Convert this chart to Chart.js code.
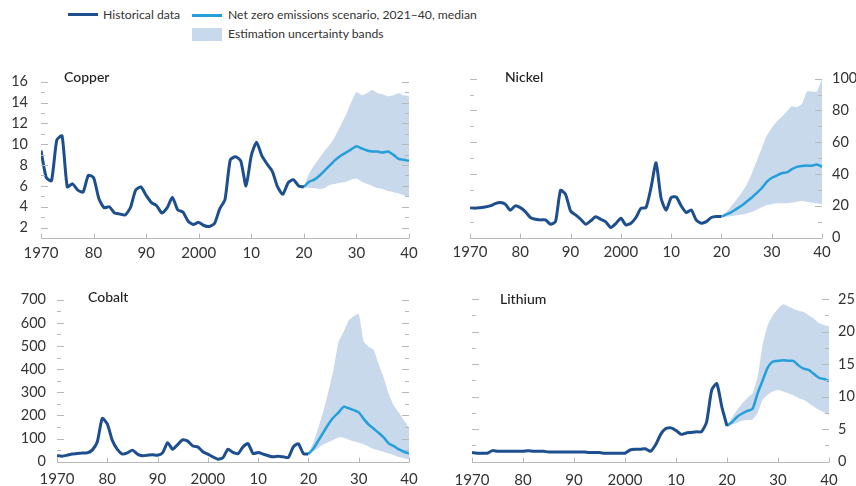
<!DOCTYPE html>
<html>
<head>
<meta charset="utf-8">
<script src="https://cdn.jsdelivr.net/npm/chart.js@4.4.0/dist/chart.umd.min.js"></script>
<style>
  body { margin: 0; width: 856px; height: 486px; background: #fff; position: relative; overflow: hidden; font-family: Lato, sans-serif; color: #333; }
  .box { position: absolute; }
  .lg { position: absolute; font-size: 12.2px; line-height: 16px; color: #333; white-space: nowrap; }
  .sw { position: absolute; }
  .ttl { position: absolute; font-size: 14px; line-height: 16px; color: #222; font-weight: 500; }
</style>
</head>
<body>

<div class="sw" style="left:68px;top:13px;width:30px;height:3px;background:#1d4f8f"></div>
<div class="lg" style="left:103px;top:7px">Historical data</div>
<div class="sw" style="left:192px;top:14px;width:30px;height:3px;background:#249fd9"></div>
<div class="lg" style="left:228px;top:7px">Net zero emissions scenario, 2021–40, median</div>
<div class="sw" style="left:192px;top:28px;width:30px;height:13px;background:#c8d9eb"></div>
<div class="lg" style="left:228px;top:26px">Estimation uncertainty bands</div>

<div class="box" style="left:0;top:60px;width:428px;height:205px"><canvas id="copper"></canvas></div>
<div class="box" style="left:428px;top:60px;width:428px;height:205px"><canvas id="nickel"></canvas></div>
<div class="box" style="left:0;top:280px;width:428px;height:206px"><canvas id="cobalt"></canvas></div>
<div class="box" style="left:428px;top:280px;width:428px;height:206px"><canvas id="lithium"></canvas></div>

<div class="ttl" style="left:64px;top:69px">Copper</div>
<div class="ttl" style="left:505px;top:69px">Nickel</div>
<div class="ttl" style="left:88px;top:289px">Cobalt</div>
<div class="ttl" style="left:500px;top:291px">Lithium</div>

<script>
// years
const histYears = Array.from({ length: 51 }, (_, i) => 1970 + i)
const projYears = Array.from({ length: 21 }, (_, i) => 2020 + i)
const xTicks = [1970, 1980, 1990, 2000, 2010, 2020, 2030, 2040]
const xLabels = ['1970', '80', '90', '2000', '10', '20', '30', '40']

// copper
const copperHist = [9.4, 6.8, 6.5, 10.4, 10.8, 5.9, 6.2, 5.6, 5.4, 7.0,
  6.8, 4.8, 3.9, 4.0, 3.4, 3.3, 3.2, 3.9, 5.6, 5.9,
  5.1, 4.4, 4.1, 3.4, 3.9, 4.9, 3.7, 3.5, 2.6, 2.3,
  2.5, 2.2, 2.1, 2.4, 3.8, 4.7, 8.5, 8.8, 8.4, 6.0,
  8.9, 10.2, 8.9, 8.1, 7.4, 5.9, 5.2, 6.3, 6.6, 6.0,
  5.9]
const copperMed = [5.9, 6.4, 6.6, 7.0, 7.5, 8.0, 8.5, 8.9, 9.2, 9.5, 9.8, 9.6, 9.4, 9.3, 9.3, 9.2, 9.3, 9.0, 8.6, 8.5, 8.4]
const copperUp = [5.9, 7.2, 8.0, 8.7, 9.4, 10.0, 10.8, 11.8, 12.8, 14.0, 15.0, 14.7, 14.9, 15.2, 14.9, 14.8, 14.6, 14.7, 14.9, 14.7, 14.6]
const copperLo = [5.9, 5.8, 5.8, 5.7, 5.8, 6.1, 6.2, 6.3, 6.4, 6.6, 6.7, 6.4, 6.2, 6.0, 5.8, 5.7, 5.5, 5.4, 5.3, 5.1, 4.9]
const copperTicks = [2, 4, 6, 8, 10, 12, 14, 16]

// nickel
const nickelHist = [18.8, 18.4, 18.8, 19.2, 19.9, 21.3, 22, 21, 17.2, 19.9,
  18.8, 16.3, 12.6, 11.5, 11.1, 11.1, 8.4, 10, 29.7, 27.2,
  16.7, 14.2, 11.5, 8.4, 10.5, 13, 11.5, 9.8, 6.3, 8.8,
  12.1, 7.9, 9, 12.6, 18.4, 18.8, 31.4, 47, 24.7, 17.2,
  25.1, 25.5, 19.9, 15.7, 17.4, 10.9, 9, 10, 12.6, 13.2,
  13.2]
const nickelMed = [13.2, 14.5, 16, 18, 20, 22.5, 25, 28, 31, 35, 37.5, 39, 40.5, 41, 43, 44.5, 45, 45.3, 45.2, 46, 44.5]
const nickelUp = [13.2, 16, 20, 24, 28, 33, 40, 48, 56, 64, 69, 73, 76, 79.5, 82.6, 82, 84, 92, 92, 92, 100]
const nickelLo = [13.2, 13, 13.5, 14, 14.5, 15, 16, 17.5, 19, 20.5, 21, 21.5, 21.5, 21.5, 22, 22.5, 23, 22.5, 22, 21.5, 21]
const nickelTicks = [0, 20, 40, 60, 80, 100]

// cobalt
const cobaltHist = [26, 24, 28, 33, 35, 38, 38, 50, 85, 187,
  163, 92, 53, 33, 38, 50, 33, 26, 28, 30,
  28, 38, 82, 54, 74, 95, 89, 68, 64, 43,
  33, 21, 11, 17, 54, 40, 35, 64, 78, 35,
  40, 33, 26, 21, 24, 21, 18, 64, 78, 35,
  33]
const cobaltMed = [33, 57, 92, 128, 163, 192, 213, 237, 231, 223, 213, 185, 160, 142, 124, 104, 78, 67, 53, 43, 35]
const cobaltUp = [33, 85, 149, 220, 305, 398, 518, 561, 610, 629, 639, 518, 497, 483, 419, 362, 291, 241, 213, 178, 149]
const cobaltLo = [33, 45, 60, 75, 85, 95, 105, 103, 95, 88, 82, 75, 65, 55, 48, 42, 35, 28, 20, 15, 10]
const cobaltTicks = [0, 100, 200, 300, 400, 500, 600, 700]

// lithium
const lithiumHist = [1.4, 1.3, 1.3, 1.3, 1.7, 1.6, 1.6, 1.6, 1.6, 1.6,
  1.6, 1.7, 1.6, 1.6, 1.6, 1.5, 1.5, 1.5, 1.5, 1.5,
  1.5, 1.5, 1.5, 1.4, 1.4, 1.4, 1.3, 1.3, 1.3, 1.3,
  1.3, 1.8, 1.9, 1.9, 2.0, 1.6, 2.6, 4.2, 5.1, 5.2,
  4.8, 4.2, 4.4, 4.5, 4.6, 4.6, 6.1, 11, 12, 8.4,
  5.5]
const lithiumMed = [5.5, 6.1, 6.9, 7.4, 7.8, 8.1, 10.5, 12.5, 14.5, 15.4, 15.5, 15.6, 15.5, 15.5, 14.8, 14.3, 14.1, 13.5, 12.9, 12.7, 12.4]
const lithiumUp = [5.5, 6.8, 8, 9, 9.8, 10.5, 13, 18, 21, 22.5, 23.5, 24.2, 23.9, 23.5, 23.2, 23, 22.5, 22, 21.3, 21, 20.8]
const lithiumLo = [5.5, 5.7, 6.0, 6.3, 6.4, 6.5, 7.5, 9.5, 10.3, 10.8, 11.0, 10.8, 10.5, 10.2, 9.8, 9.5, 9.0, 8.5, 8.0, 7.6, 7.2]
const lithiumTicks = [0, 5, 10, 15, 20, 25]

Chart.defaults.font.family = 'Lato, sans-serif'
Chart.defaults.font.size = 15
Chart.defaults.color = '#333'
Chart.defaults.animation = false

const pts = (xs, ys) => ys.map((v, i) => ({ x: xs[i], y: v }))

// short inner dashes on both sides + baseline with decade ticks
const axisMarks = {
  id: 'axisMarks',
  afterDatasetsDraw(chart, args, opts) {
    const { ctx, chartArea: a, scales } = chart
    const y = scales.y, x = scales.x
    ctx.save()
    ctx.strokeStyle = '#b8b8b8'
    ctx.lineWidth = 1
    for (let v = y.min; v <= y.max + 1e-9; v += opts.step) {
      const py = Math.round(y.getPixelForValue(v)) + 0.5
      const major = opts.major.includes(Math.round(v * 100) / 100)
      const len = major ? 7 : 4
      ctx.beginPath()
      ctx.moveTo(a.left, py); ctx.lineTo(a.left + len, py)
      ctx.moveTo(a.right - len, py); ctx.lineTo(a.right, py)
      ctx.stroke()
    }
    const by = Math.round(a.bottom) + 0.5
    ctx.beginPath()
    ctx.moveTo(a.left, by); ctx.lineTo(a.right, by)
    xTicks.forEach(t => {
      const px = Math.round(x.getPixelForValue(t)) + 0.5
      ctx.moveTo(px, by); ctx.lineTo(px, by - 5)
    })
    ctx.stroke()
    ctx.restore()
  }
}

function makePanel(id, o) {
  new Chart(document.getElementById(id), {
    type: 'line',
    data: {
      datasets: [
        { data: pts(histYears, o.hist), borderColor: '#1d4f8f', borderWidth: 3, pointRadius: 0, tension: 0.2, borderJoinStyle: 'round' },
        { data: pts(projYears, o.med), borderColor: '#249fd9', borderWidth: 2.5, pointRadius: 0, tension: 0.2, borderJoinStyle: 'round' },
        { data: pts(projYears, o.lo), borderWidth: 0, pointRadius: 0, tension: 0.15 },
        { data: pts(projYears, o.up), borderWidth: 0, pointRadius: 0, tension: 0.15, fill: '-1', backgroundColor: '#c8d9eb' }
      ]
    },
    options: {
      responsive: true,
      maintainAspectRatio: false,
      layout: { padding: o.pad },
      plugins: { legend: { display: false }, tooltip: { enabled: false }, axisMarks: { step: o.step, major: o.ticks } },
      scales: {
        x: {
          type: 'linear', min: 1970, max: 2040,
          grid: { display: false, drawTicks: false }, border: { display: false },
          afterBuildTicks: s => { s.ticks = xTicks.map(v => ({ value: v })) },
          ticks: { padding: o.xpad, maxRotation: 0, autoSkip: false, callback: v => xLabels[xTicks.indexOf(v)] },
          afterFit: s => { s.height = o.xh }
        },
        y: {
          position: o.side, min: o.min, max: o.max,
          grid: { display: false, drawTicks: false }, border: { display: false },
          afterBuildTicks: s => { s.ticks = o.ticks.map(v => ({ value: v })) },
          ticks: { padding: o.ypad, font: { size: 14.5 }, callback: v => String(v) },
          afterFit: s => { s.width = o.yw }
        }
      }
    },
    plugins: [axisMarks]
  })
}

makePanel('copper', { hist: copperHist, med: copperMed, up: copperUp, lo: copperLo, ticks: copperTicks,
  min: 1, max: 16, step: 1, side: 'left', yw: 41, ypad: 13, xh: 27, xpad: 6, pad: { top: 15, right: 19, left: 0, bottom: 0 } })
makePanel('nickel', { hist: nickelHist, med: nickelMed, up: nickelUp, lo: nickelLo, ticks: nickelTicks,
  min: 0, max: 100, step: 10, side: 'right', yw: 34, ypad: 10, xh: 27.5, xpad: 6, pad: { top: 15, right: 0, left: 42, bottom: 0 } })
makePanel('cobalt', { hist: cobaltHist, med: cobaltMed, up: cobaltUp, lo: cobaltLo, ticks: cobaltTicks,
  min: 0, max: 700, step: 50, side: 'left', yw: 57, ypad: 11, xh: 24.3, xpad: 8, pad: { top: 17, right: 19, left: 0, bottom: 0 } })
makePanel('lithium', { hist: lithiumHist, med: lithiumMed, up: lithiumUp, lo: lithiumLo, ticks: lithiumTicks,
  min: 0, max: 25, step: 2.5, side: 'right', yw: 27, ypad: 9, xh: 24.3, xpad: 9, pad: { top: 19, right: 0, left: 44, bottom: 0 } })
</script>
</body>
</html>
